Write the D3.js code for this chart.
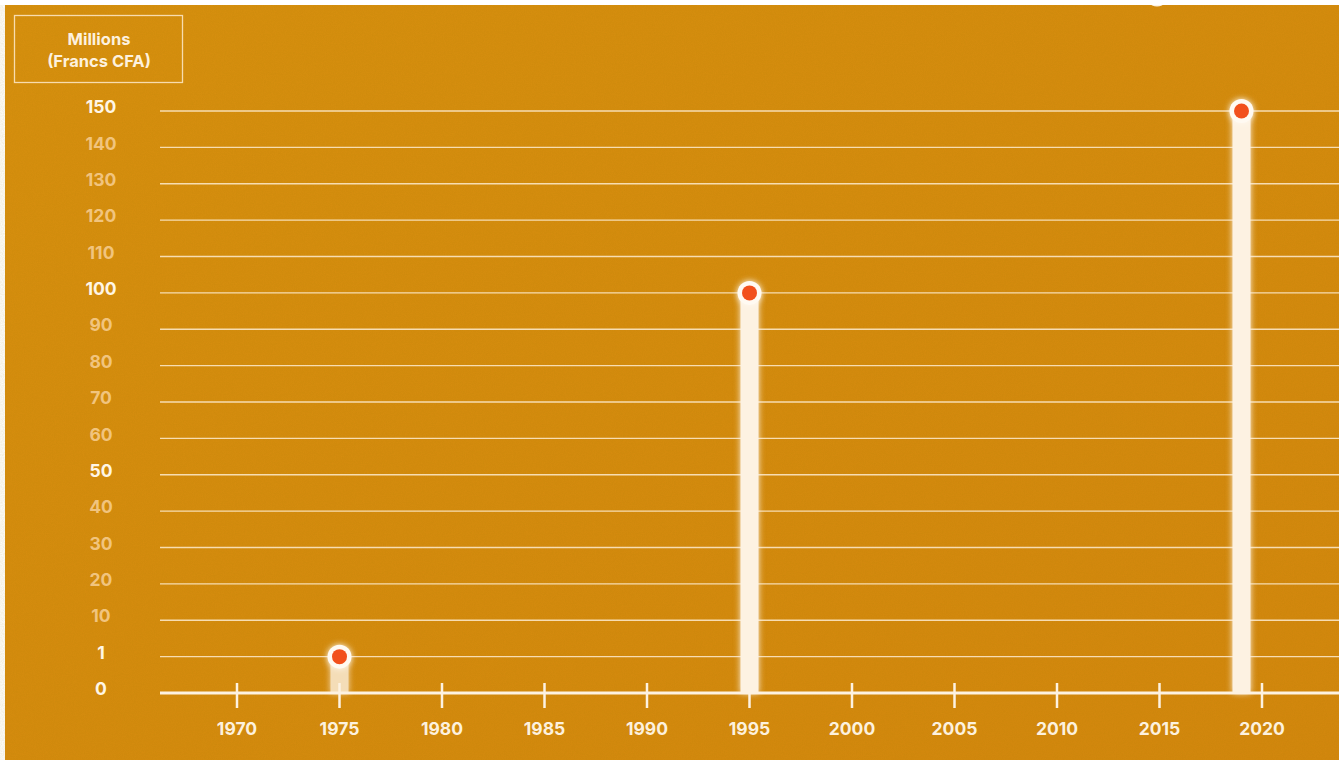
<!DOCTYPE html>
<html>
<head>
  <meta charset="UTF-8" />
  <title>Millions (Francs CFA)</title>
  <style>
    html, body { margin: 0; padding: 0; background: #ffffff; }
    body { font-family: Inter, "Open Sans", sans-serif; }
    svg { display: block; }
  </style>
</head>
<body>
  <div id="chart"></div>
  <script src="https://d3js.org/d3.v7.min.js"></script>
  <script>
    // données
    const years = [1975, 1995, 2019];
    const amounts = [1, 100, 150];
    const yTicks = [0, 1, 10, 20, 30, 40, 50, 60, 70, 80, 90, 100, 110, 120, 130, 140, 150];
    const strongTicks = [0, 1, 50, 100, 150];
    const xTicks = [1970, 1975, 1980, 1985, 1990, 1995, 2000, 2005, 2010, 2015, 2020];
    const unitLines = ["Millions", "(Francs CFA)"];

    const W = 1339, H = 760;
    const cream = "#fdf2e2";

    const svg = d3.select("#chart").append("svg")
      .attr("width", W)
      .attr("height", H);

    const defs = svg.append("defs");

    const bg = defs.append("linearGradient").attr("id", "bg")
      .attr("x1", 0).attr("y1", 0).attr("x2", 1).attr("y2", 1);
    bg.append("stop").attr("offset", "0%").attr("stop-color", "#d8900f");
    bg.append("stop").attr("offset", "100%").attr("stop-color", "#d4870e");

    const glow = defs.append("filter").attr("id", "glow")
      .attr("x", "-100%").attr("y", "-100%").attr("width", "300%").attr("height", "300%");
    glow.append("feGaussianBlur").attr("in", "SourceGraphic").attr("stdDeviation", 3).attr("result", "b");
    const m = glow.append("feMerge");
    m.append("feMergeNode").attr("in", "b");
    m.append("feMergeNode").attr("in", "SourceGraphic");

    const grain = defs.append("filter").attr("id", "grain");
    grain.append("feTurbulence").attr("type", "fractalNoise").attr("baseFrequency", 0.9).attr("numOctaves", 2).attr("seed", 4);
    grain.append("feColorMatrix").attr("type", "matrix")
      .attr("values", "0 0 0 0 0.35  0 0 0 0 0.2  0 0 0 0 0  0 0 0 0.22 0");

    // fond papier
    svg.append("rect").attr("x", 5).attr("y", 5).attr("width", W - 5).attr("height", H - 5)
      .attr("fill", "url(#bg)");
    svg.append("rect").attr("x", 5).attr("y", 5).attr("width", W - 5).attr("height", H - 5)
      .attr("filter", "url(#grain)").attr("opacity", 0.7);

    // cercle coupé en haut
    svg.append("circle").attr("cx", 1157).attr("cy", -6).attr("r", 11)
      .attr("fill", "none").attr("stroke", cream).attr("stroke-width", 3);
    svg.append("rect").attr("x", 0).attr("y", 0).attr("width", W).attr("height", 5).attr("fill", "#fff");

    const x = d3.scaleLinear().domain([1970, 2020]).range([237, 1262]);
    const y = d3.scalePoint().domain(yTicks.map(String)).range([693, 111]);

    // grille
    svg.append("g")
      .selectAll("line")
      .data(yTicks.filter(d => d !== 0))
      .join("line")
      .attr("x1", 160).attr("x2", W)
      .attr("y1", d => y(String(d))).attr("y2", d => y(String(d)))
      .attr("stroke", "#fbe6c4").attr("stroke-opacity", 0.9).attr("stroke-width", 1.4);

    // étiquettes axe y
    svg.append("g")
      .selectAll("text")
      .data(yTicks)
      .join("text")
      .attr("x", 101)
      .attr("y", d => y(String(d)) - 4)
      .attr("dy", "0.35em")
      .attr("text-anchor", "middle")
      .attr("font-size", 17.5)
      .attr("font-weight", 700)
      .attr("fill", d => strongTicks.includes(d) ? "#fff6e6" : "#f1c47e")
      .text(d => d);

    // barres
    const data = years.map((yr, i) => ({ year: yr, value: amounts[i] }));
    const bars = svg.append("g");
    bars.selectAll("rect")
      .data(data)
      .join("rect")
      .attr("x", d => x(d.year) - 9)
      .attr("width", 18)
      .attr("y", d => y(String(d.value)))
      .attr("height", d => y("0") - y(String(d.value)))
      .attr("fill", cream)
      .attr("opacity", d => d.value < 10 ? 0.8 : 1)
      .attr("filter", "url(#glow)");

    // axe x
    const xAxis = svg.append("g");
    xAxis.append("line")
      .attr("x1", 160).attr("x2", W)
      .attr("y1", y("0")).attr("y2", y("0"))
      .attr("stroke", cream).attr("stroke-width", 3);
    xAxis.selectAll("line.tick")
      .data(xTicks)
      .join("line")
      .attr("class", "tick")
      .attr("x1", d => x(d)).attr("x2", d => x(d))
      .attr("y1", y("0") - 10).attr("y2", y("0") + 15)
      .attr("stroke", cream).attr("stroke-width", 2.5);
    xAxis.selectAll("text")
      .data(xTicks)
      .join("text")
      .attr("x", d => x(d))
      .attr("y", 729)
      .attr("dy", "0.35em")
      .attr("text-anchor", "middle")
      .attr("font-size", 17.5)
      .attr("font-weight", 700)
      .attr("fill", "#fdf1de")
      .text(d => d);

    // points
    const pts = svg.append("g");
    pts.selectAll("circle.outer")
      .data(data)
      .join("circle")
      .attr("class", "outer")
      .attr("cx", d => x(d.year))
      .attr("cy", d => y(String(d.value)))
      .attr("r", 12)
      .attr("fill", "#fffaf2")
      .attr("filter", "url(#glow)");
    pts.selectAll("circle.inner")
      .data(data)
      .join("circle")
      .attr("class", "inner")
      .attr("cx", d => x(d.year))
      .attr("cy", d => y(String(d.value)))
      .attr("r", 7.5)
      .attr("fill", "#f2501c");

    // encadré unité
    const box = svg.append("g");
    box.append("rect")
      .attr("x", 14.5).attr("y", 15.5).attr("width", 168).attr("height", 67)
      .attr("fill", "none").attr("stroke", "#f8dcae").attr("stroke-width", 1.3);
    box.selectAll("text")
      .data(unitLines)
      .join("text")
      .attr("x", 99)
      .attr("y", (d, i) => 39 + i * 22)
      .attr("dy", "0.35em")
      .attr("text-anchor", "middle")
      .attr("font-size", 16.5)
      .attr("font-weight", 700)
      .attr("fill", "#fdf1de")
      .text(d => d);
  </script>
</body>
</html>
